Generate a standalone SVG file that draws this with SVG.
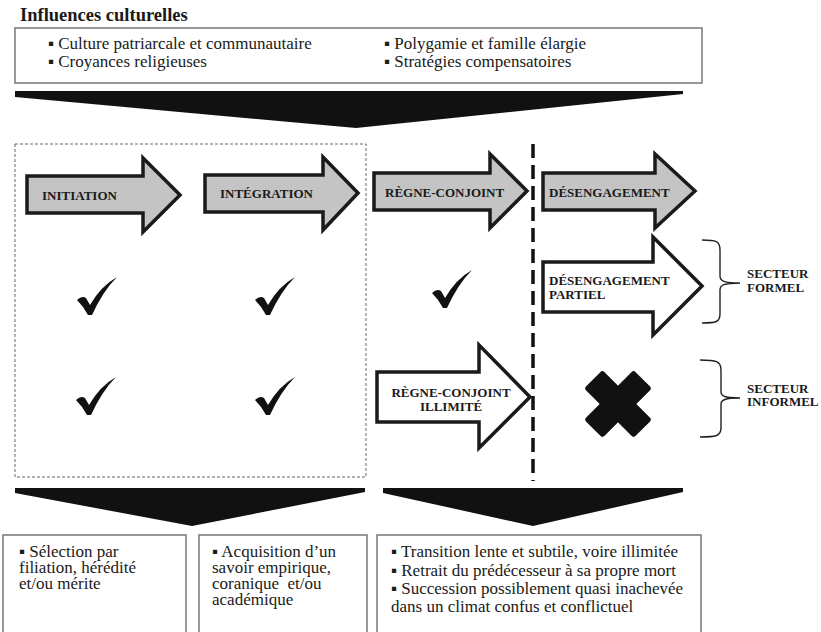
<svg xmlns="http://www.w3.org/2000/svg" width="821" height="632" viewBox="0 0 821 632">
<style>
text{font-family:"Liberation Serif","Times New Roman",serif;fill:#1a1a1a}
.t{font-size:17px}
.b{font-size:13px;font-weight:bold}
.ttl{font-size:18.5px;font-weight:bold}
.box{fill:#fff;stroke:#6e6e6e;stroke-width:1.4}
.ga{fill:#c4c4c4;stroke:#1a1a1a;stroke-width:3.5;stroke-linejoin:miter}
.wa{fill:#fff;stroke:#1a1a1a;stroke-width:3.5;stroke-linejoin:miter}
.big{fill:#111}
.br{fill:none;stroke:#222;stroke-width:1.4}
</style>
<defs>
<path id="chk" d="M0,23 Q5,18 9,21 L13,28 Q24,9 40,0 Q26,14 15,38 L11,38 Q7,30 0,23 Z" fill="#111"/>
</defs>

<g id="influences">
<text class="ttl" x="20" y="21">Influences culturelles</text>
<rect class="box" x="15" y="28" width="687" height="55"/>
<text class="t" x="48" y="49">▪ Culture patriarcale et communautaire</text>
<text class="t" x="48" y="67">▪ Croyances religieuses</text>
<text class="t" x="384" y="49">▪ Polygamie et famille élargie</text>
<text class="t" x="384" y="67">▪ Stratégies compensatoires</text>
</g>

<g id="connectors">
<polygon class="big" points="15,91 683,91 683,94 356,128 15,97"/>
<polygon class="big" points="15,488 365,488 365,492 192,526 15,493"/>
<polygon class="big" points="383,488 683,488 683,492 533,526 383,493"/>
<rect x="15" y="144" width="351" height="333" fill="none" stroke="#666" stroke-width="1" stroke-dasharray="3,2"/>
<line x1="533" y1="144" x2="533" y2="481" stroke="#111" stroke-width="3.5" stroke-dasharray="14,7"/>
</g>

<g id="initiation">
<path class="ga" d="M27,176 H143 V158 L180,195 L143,232 V213 H27 Z"/>
<text class="b" x="42" y="200">INITIATION</text>
</g>
<g id="integration">
<path class="ga" d="M205,175 H323 V157 L358,193 L323,230 V212 H205 Z"/>
<text class="b" x="220" y="198">INTÉGRATION</text>
</g>
<g id="regne-conjoint">
<path class="ga" d="M374,173 H490 V154 L527,191 L490,228 V210 H374 Z"/>
<text class="b" x="385" y="197">RÈGNE-CONJOINT</text>
</g>
<g id="desengagement">
<path class="ga" d="M543,173 H655 V154 L695,191 L655,228 V210 H543 Z"/>
<text class="b" x="549" y="197">DÉSENGAGEMENT</text>
</g>
<g id="desengagement-partiel">
<path class="wa" d="M543,262 H653 V237 L702,286 L653,335 V312 H543 Z"/>
<text class="b" x="549" y="285">DÉSENGAGEMENT</text>
<text class="b" x="549" y="299">PARTIEL</text>
</g>
<g id="regne-conjoint-illimite">
<path class="wa" d="M377,372 H479 V345 L530,397 L479,448 V422 H377 Z"/>
<text class="b" x="451" y="397" text-anchor="middle">RÈGNE-CONJOINT</text>
<text class="b" x="451" y="411" text-anchor="middle">ILLIMITÉ</text>
</g>

<g id="checks">
<use href="#chk" x="77" y="277"/>
<use href="#chk" x="255" y="277"/>
<use href="#chk" x="432" y="270"/>
<use href="#chk" x="76" y="377"/>
<use href="#chk" x="255" y="377"/>
</g>

<g id="cross" transform="translate(618,404)">
<rect x="-35" y="-13" width="70" height="26" rx="3" fill="#111" transform="rotate(45)"/>
<rect x="-35" y="-13" width="70" height="26" rx="3" fill="#111" transform="rotate(-45)"/>
</g>

<g id="secteur-formel">
<path class="br" d="M702,240 C716,240 720,241 720,250 L720,276 C720,281 724,283 740,283 C724,283 720,285 720,290 L720,314 C720,322 716,323 702,323"/>
<text class="b" x="747" y="278">SECTEUR</text>
<text class="b" x="747" y="292">FORMEL</text>
</g>
<g id="secteur-informel">
<path class="br" d="M700,360 C716,360 721,361 721,370 L721,392 C721,396 725,398 740,398 C725,398 721,400 721,404 L721,428 C721,436 716,437 700,437"/>
<text class="b" x="747" y="393">SECTEUR</text>
<text class="b" x="747" y="406">INFORMEL</text>
</g>

<g id="box-selection">
<rect class="box" x="3" y="535" width="183" height="110"/>
<text class="t" x="19" y="557">▪ Sélection par</text>
<text class="t" x="19" y="573">filiation, hérédité</text>
<text class="t" x="19" y="589">et/ou mérite</text>
</g>
<g id="box-acquisition">
<rect class="box" x="199" y="535" width="168" height="110"/>
<text class="t" x="212" y="557">▪ Acquisition d’un</text>
<text class="t" x="212" y="573">savoir empirique,</text>
<text class="t" x="212" y="589" xml:space="preserve">coranique  et/ou</text>
<text class="t" x="212" y="605">académique</text>
</g>
<g id="box-transition">
<rect class="box" x="377" y="535" width="324" height="110"/>
<text class="t" x="391" y="557">▪ Transition lente et subtile, voire illimitée</text>
<text class="t" x="391" y="576">▪ Retrait du prédécesseur à sa propre mort</text>
<text class="t" x="391" y="594">▪ Succession possiblement quasi inachevée</text>
<text class="t" x="391" y="612">dans un climat confus et conflictuel</text>
</g>
</svg>
